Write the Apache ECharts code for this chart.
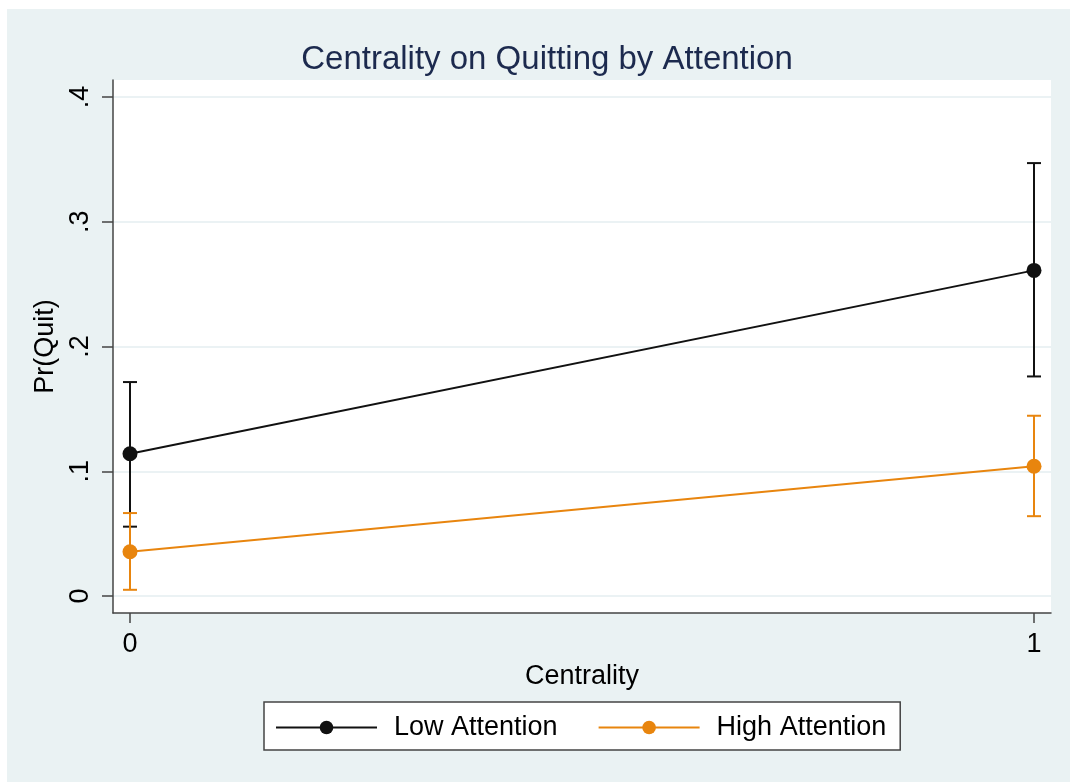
<!DOCTYPE html>
<html>
<head>
<meta charset="utf-8">
<title>Centrality on Quitting by Attention</title>
<script src="https://cdn.jsdelivr.net/npm/echarts@6/dist/echarts.min.js"></script>
<style>
  html, body { margin: 0; padding: 0; background: #ffffff; }
  #chart { width: 1070px; height: 782px; }
</style>
</head>
<body>
<div id="chart"></div>
<script>
// Predicted probability of quitting by centrality, split by attention level
const centrality = [0, 1];
const xTickValues = [0, 1];
const xTickLabels = ['0', '1'];
const yTickValues = [0, 0.1, 0.2, 0.3, 0.4];
const yTickLabels = ['0', '.1', '.2', '.3', '.4'];

const seriesNames = ['Low Attention', 'High Attention'];
const lowMean = [0.114, 0.261];
const lowUpper = [0.1715, 0.347];
const lowLower = [0.0556, 0.176];
const highMean = [0.0355, 0.104];
const highUpper = [0.0665, 0.1445];
const highLower = [0.005, 0.064];

const FONT = '"Liberation Sans", Arial, sans-serif';
const BLACK = '#111111';
const ORANGE = '#E8850E';

function points(ys) { return centrality.map((x, i) => [x, ys[i]]); }
function intervals(lo, hi) { return centrality.map((x, i) => [x, lo[i], hi[i]]); }

// Vertical interval with end caps
function ciRenderer(color) {
  return function (params, api) {
    const x = api.value(0);
    const lo = api.coord([x, api.value(1)]);
    const hi = api.coord([x, api.value(2)]);
    const cap = 7;
    const style = { stroke: color, lineWidth: 2, fill: null };
    return {
      type: 'group',
      children: [
        { type: 'line', shape: { x1: lo[0], y1: lo[1], x2: hi[0], y2: hi[1] }, style },
        { type: 'line', shape: { x1: lo[0] - cap, y1: lo[1], x2: lo[0] + cap, y2: lo[1] }, style },
        { type: 'line', shape: { x1: hi[0] - cap, y1: hi[1], x2: hi[0] + cap, y2: hi[1] }, style }
      ]
    };
  };
}

const chart = echarts.init(document.getElementById('chart'), null, { renderer: 'canvas' });

chart.setOption({
  animation: false,
  backgroundColor: '#ffffff',
  graphic: [{
    type: 'rect', z: -10, silent: true,
    shape: { x: 7, y: 9, width: 1063, height: 773 },
    style: { fill: '#EAF2F3' }
  }],
  title: {
    text: 'Centrality on Quitting by Attention',
    left: 542, top: 38, textAlign: 'center',
    textStyle: { fontFamily: FONT, fontSize: 33, fontWeight: 'normal', color: '#1C2A4E' }
  },
  grid: {
    left: 113, right: 19, top: 80, bottom: 169,
    show: true, backgroundColor: '#ffffff', borderWidth: 0
  },
  legend: {
    data: seriesNames,
    left: 264, top: 702,
    orient: 'horizontal',
    padding: [12, 14, 9, 11],
    itemWidth: 101, itemHeight: 17, itemGap: 40,
    backgroundColor: '#ffffff',
    borderColor: '#444444', borderWidth: 1.5, borderRadius: 0,
    textStyle: { fontFamily: FONT, fontSize: 27, color: '#000000', padding: [0, 0, 0, 12] }
  },
  xAxis: {
    type: 'value',
    min: -0.0188, max: 1.0188,
    name: 'Centrality', nameLocation: 'middle', nameGap: 45,
    nameTextStyle: { fontFamily: FONT, fontSize: 27, color: '#000000' },
    axisLine: { show: true, onZero: false, lineStyle: { color: '#444444', width: 1.5 } },
    axisTick: { show: true, customValues: xTickValues, length: 10, lineStyle: { color: '#444444', width: 1.5 } },
    axisLabel: {
      customValues: xTickValues, margin: 18,
      fontFamily: FONT, fontSize: 27, color: '#000000',
      formatter: v => xTickLabels[xTickValues.indexOf(v)]
    },
    splitLine: { show: false }
  },
  yAxis: {
    type: 'value',
    min: -0.0136, max: 0.4136,
    name: 'Pr(Quit)', nameLocation: 'middle', nameGap: 52, nameRotate: 90,
    nameTextStyle: { fontFamily: FONT, fontSize: 27, color: '#000000' },
    axisLine: { show: true, onZero: false, lineStyle: { color: '#444444', width: 1.5 } },
    axisTick: { show: true, customValues: yTickValues, length: 11, lineStyle: { color: '#444444', width: 1.5 } },
    axisLabel: {
      customValues: yTickValues, margin: 19, rotate: 90,
      fontFamily: FONT, fontSize: 27, color: '#000000',
      formatter: v => yTickLabels[yTickValues.findIndex(t => Math.abs(t - v) < 1e-9)]
    },
    splitLine: { show: true, lineStyle: { color: '#E4EEF0', width: 1.5 } }
  },
  series: [
    {
      name: 'Low Attention ci', type: 'custom', z: 2,
      renderItem: ciRenderer(BLACK),
      data: intervals(lowLower, lowUpper),
      encode: { x: 0, y: [1, 2] }
    },
    {
      name: 'High Attention ci', type: 'custom', z: 2,
      renderItem: ciRenderer(ORANGE),
      data: intervals(highLower, highUpper),
      encode: { x: 0, y: [1, 2] }
    },
    {
      name: 'Low Attention', type: 'line', z: 3,
      data: points(lowMean),
      symbol: 'circle', symbolSize: 15,
      lineStyle: { color: BLACK, width: 2 },
      itemStyle: { color: BLACK }
    },
    {
      name: 'High Attention', type: 'line', z: 3,
      data: points(highMean),
      symbol: 'circle', symbolSize: 15,
      lineStyle: { color: ORANGE, width: 2 },
      itemStyle: { color: ORANGE }
    }
  ]
});
</script>
</body>
</html>
